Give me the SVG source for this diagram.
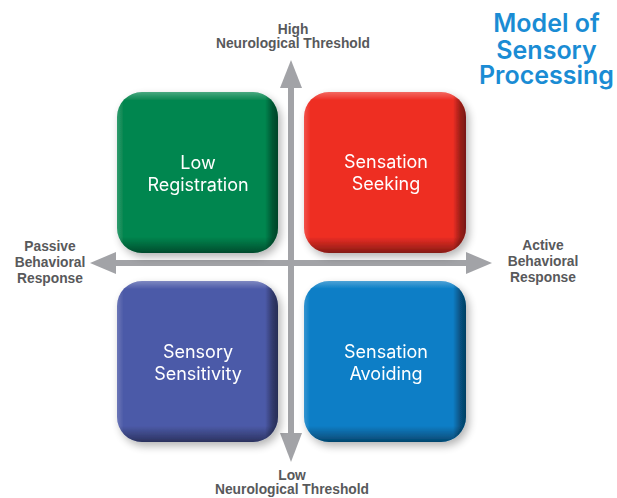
<svg xmlns="http://www.w3.org/2000/svg" width="617" height="498" viewBox="0 0 617 498">
<defs>
<style>
.box-label{font-family:Inter,"Liberation Sans",sans-serif;font-size:18px;font-weight:400;fill:#ffffff;text-anchor:middle}
.axis-label{font-family:"Liberation Sans",Arial,sans-serif;font-size:13.8px;font-weight:700;fill:#58595b;text-anchor:middle}
.title{font-family:Inter,"Liberation Sans",sans-serif;font-size:25px;font-weight:600;fill:#1a8cd4;text-anchor:middle}
.axis{fill:#a2a3a7}
</style>
<linearGradient id="vshade" x1="0" y1="0" x2="0" y2="1">
<stop offset="0" stop-color="#ffffff" stop-opacity="0.28"/>
<stop offset="0.05" stop-color="#ffffff" stop-opacity="0"/>
<stop offset="0.9" stop-color="#000000" stop-opacity="0"/>
<stop offset="0.97" stop-color="#000000" stop-opacity="0.3"/>
<stop offset="1" stop-color="#000000" stop-opacity="0.45"/>
</linearGradient>
<linearGradient id="hshade" x1="0" y1="0" x2="1" y2="0">
<stop offset="0" stop-color="#ffffff" stop-opacity="0.18"/>
<stop offset="0.04" stop-color="#ffffff" stop-opacity="0"/>
<stop offset="0.92" stop-color="#000000" stop-opacity="0"/>
<stop offset="0.965" stop-color="#000000" stop-opacity="0.35"/>
<stop offset="1" stop-color="#000000" stop-opacity="0.5"/>
</linearGradient>
<filter id="shadow" x="-20%" y="-20%" width="150%" height="150%">
<feGaussianBlur in="SourceAlpha" stdDeviation="4"/>
<feOffset dx="3" dy="4" result="b"/>
<feComponentTransfer><feFuncA type="linear" slope="0.3"/></feComponentTransfer>
<feMerge><feMergeNode/><feMergeNode in="SourceGraphic"/></feMerge>
</filter>
</defs>
<rect width="617" height="498" fill="#ffffff"/>

<g id="axes">
<rect class="axis" x="288" y="86" width="6" height="349"/>
<polygon class="axis" points="291,60 280,88 302,88"/>
<polygon class="axis" points="291,462 280,433 302,433"/>
<rect class="axis" x="114" y="260" width="354" height="6"/>
<polygon class="axis" points="90,263 116,252 116,274"/>
<polygon class="axis" points="492,263 466,252 466,274"/>
</g>

<g id="low-registration" filter="url(#shadow)">
<rect x="117" y="92" width="161" height="161" rx="25" fill="#05864f"/>
<rect x="117" y="92" width="161" height="161" rx="25" fill="url(#vshade)"/>
<rect x="117" y="92" width="161" height="161" rx="25" fill="url(#hshade)"/>
<text class="box-label" x="198" y="169">Low<tspan x="198" dy="22">Registration</tspan></text>
</g>

<g id="sensation-seeking" filter="url(#shadow)">
<rect x="304" y="92" width="162" height="161" rx="25" fill="#ee2e24"/>
<rect x="304" y="92" width="162" height="161" rx="25" fill="url(#vshade)"/>
<rect x="304" y="92" width="162" height="161" rx="25" fill="url(#hshade)"/>
<text class="box-label" x="386" y="168">Sensation<tspan x="386" dy="22">Seeking</tspan></text>
</g>

<g id="sensory-sensitivity" filter="url(#shadow)">
<rect x="117" y="281" width="161" height="161" rx="25" fill="#4c5aa8"/>
<rect x="117" y="281" width="161" height="161" rx="25" fill="url(#vshade)"/>
<rect x="117" y="281" width="161" height="161" rx="25" fill="url(#hshade)"/>
<text class="box-label" x="198" y="358">Sensory<tspan x="198" dy="22">Sensitivity</tspan></text>
</g>

<g id="sensation-avoiding" filter="url(#shadow)">
<rect x="304" y="281" width="162" height="161" rx="25" fill="#0a7ec6"/>
<rect x="304" y="281" width="162" height="161" rx="25" fill="url(#vshade)"/>
<rect x="304" y="281" width="162" height="161" rx="25" fill="url(#hshade)"/>
<text class="box-label" x="386" y="358">Sensation<tspan x="386" dy="22">Avoiding</tspan></text>
</g>

<g id="labels">
<text class="axis-label" x="293" y="34">High<tspan x="293" dy="14">Neurological Threshold</tspan></text>
<text class="axis-label" x="292" y="480">Low<tspan x="292" dy="14">Neurological Threshold</tspan></text>
<text class="axis-label" x="50" y="251">Passive<tspan x="50" dy="16">Behavioral</tspan><tspan x="50" dy="16">Response</tspan></text>
<text class="axis-label" x="543" y="250">Active<tspan x="543" dy="16">Behavioral</tspan><tspan x="543" dy="16">Response</tspan></text>
<text class="title" x="546.5" y="32">Model of<tspan x="546.5" dy="26.5">Sensory</tspan><tspan x="546.5" dy="25.5">Processing</tspan></text>
</g>
</svg>
